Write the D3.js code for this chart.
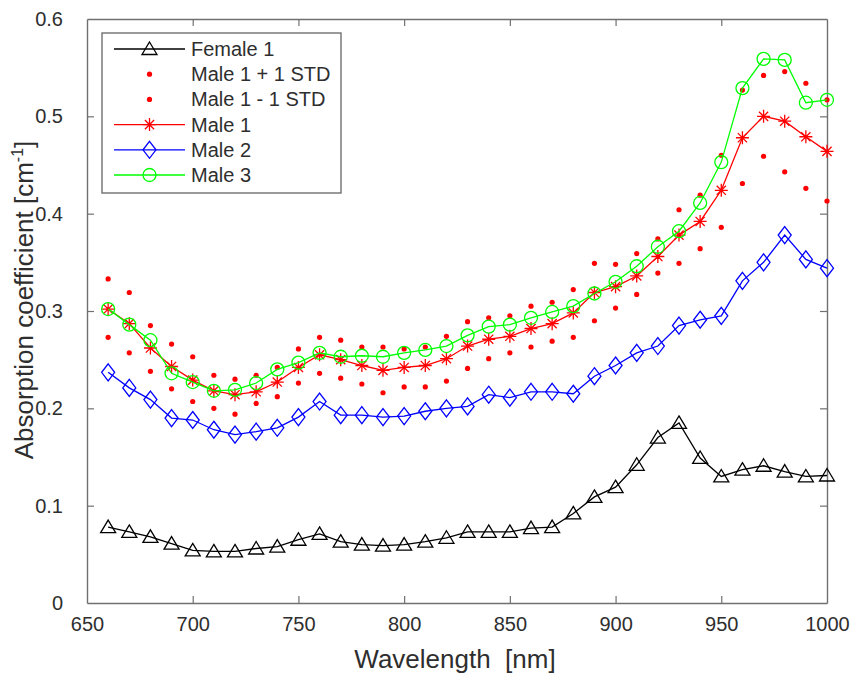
<!DOCTYPE html>
<html>
<head>
<meta charset="utf-8">
<script src="https://cdn.jsdelivr.net/npm/d3@7"></script>
<style>
  html, body { margin: 0; padding: 0; background: #fff; }
  svg { display: block; font-family: "Liberation Sans", Arial, Helvetica, sans-serif; }
</style>
</head>
<body>
<svg id="chart" width="853" height="673"></svg>
<script>
// Wavelength samples [nm]
const wavelengths = [660, 670, 680, 690, 700, 710, 720, 730, 740, 750, 760, 770, 780, 790, 800, 810, 820, 830, 840, 850,
                     860, 870, 880, 890, 900, 910, 920, 930, 940, 950, 960, 970, 980, 990, 1000];

// Absorption coefficients [cm^-1]
const female1 = [0.078, 0.073, 0.068, 0.061, 0.054, 0.053, 0.053, 0.056, 0.058, 0.065, 0.071, 0.063, 0.060, 0.059, 0.060,
                 0.063, 0.067, 0.073, 0.073, 0.073, 0.077, 0.078, 0.092, 0.109, 0.119, 0.142, 0.170, 0.185, 0.149, 0.130,
                 0.137, 0.141, 0.135, 0.130, 0.131];
const male1Plus = [0.333, 0.319, 0.285, 0.266, 0.253, 0.234, 0.230, 0.234, 0.242, 0.261, 0.273, 0.270, 0.263, 0.263, 0.261,
                   0.263, 0.274, 0.289, 0.293, 0.295, 0.305, 0.309, 0.322, 0.349, 0.348, 0.359, 0.374, 0.404, 0.419, 0.460,
                   0.527, 0.542, 0.546, 0.534, 0.517];
const male1Minus = [0.273, 0.257, 0.238, 0.220, 0.207, 0.200, 0.194, 0.205, 0.212, 0.226, 0.236, 0.231, 0.225, 0.216, 0.222,
                    0.222, 0.228, 0.241, 0.251, 0.257, 0.263, 0.269, 0.273, 0.290, 0.303, 0.317, 0.339, 0.349, 0.364, 0.386,
                    0.431, 0.459, 0.443, 0.426, 0.413];
const male1 = [0.302, 0.287, 0.262, 0.243, 0.229, 0.218, 0.214, 0.217, 0.227, 0.242, 0.255, 0.250, 0.244, 0.239, 0.242,
               0.244, 0.251, 0.264, 0.271, 0.274, 0.282, 0.287, 0.298, 0.319, 0.325, 0.336, 0.356, 0.378, 0.392, 0.424,
               0.478, 0.500, 0.495, 0.479, 0.464];
const male2 = [0.237, 0.221, 0.209, 0.190, 0.188, 0.178, 0.173, 0.176, 0.180, 0.191, 0.207, 0.193, 0.193, 0.191, 0.192,
               0.197, 0.200, 0.202, 0.214, 0.211, 0.217, 0.217, 0.215, 0.233, 0.244, 0.257, 0.264, 0.285, 0.291, 0.295,
               0.331, 0.350, 0.378, 0.353, 0.344];
const male3 = [0.302, 0.286, 0.270, 0.236, 0.227, 0.218, 0.219, 0.226, 0.240, 0.247, 0.257, 0.253, 0.254, 0.253, 0.257,
               0.260, 0.264, 0.275, 0.284, 0.286, 0.293, 0.299, 0.305, 0.318, 0.330, 0.346, 0.366, 0.382, 0.411, 0.453,
               0.529, 0.559, 0.558, 0.514, 0.517];

const seriesNames = ["Female 1", "Male 1 + 1 STD", "Male 1 - 1 STD", "Male 1", "Male 2", "Male 3"];

// Axis ticks
const xTicks = [650, 700, 750, 800, 850, 900, 950, 1000];
const yTicks = [0, 0.1, 0.2, 0.3, 0.4, 0.5, 0.6];
const yTickLabels = ["0", "0.1", "0.2", "0.3", "0.4", "0.5", "0.6"];

const xLabel = "Wavelength  [nm]";
const yLabel = "Absorption coefficient [cm";

// ---- layout ----
const W = 853, H = 673;
const margin = { left: 87, right: 26, top: 19, bottom: 70 };
const pw = W - margin.left - margin.right;
const ph = H - margin.top - margin.bottom;
const axisColor = "#707070";
const textColor = "#2e2e2e";

const svg = d3.select("#chart");
const g = svg.append("g").attr("transform", `translate(${margin.left},${margin.top})`);

const x = d3.scaleLinear().domain([650, 1000]).range([0, pw]);
const y = d3.scaleLinear().domain([0, 0.6]).range([ph, 0]);

// ---- marker shapes ----
function drawMarker(sel, type, color) {
  if (type === "triangle") {
    sel.append("path").attr("d", "M0,-7 L7.5,5.5 L-7.5,5.5 Z")
      .attr("fill", "none").attr("stroke", color).attr("stroke-width", 1.3);
  } else if (type === "diamond") {
    sel.append("path").attr("d", "M0,-8.5 L6.5,0 L0,8.5 L-6.5,0 Z")
      .attr("fill", "none").attr("stroke", color).attr("stroke-width", 1.3);
  } else if (type === "circle") {
    sel.append("circle").attr("r", 6.5)
      .attr("fill", "none").attr("stroke", color).attr("stroke-width", 1.3);
  } else if (type === "star") {
    const s = 6.5, d = 4.6;
    sel.append("path")
      .attr("d", `M${-s},0 L${s},0 M0,${-s} L0,${s} M${-d},${-d} L${d},${d} M${-d},${d} L${d},${-d}`)
      .attr("fill", "none").attr("stroke", color).attr("stroke-width", 1.3);
  } else if (type === "dot") {
    sel.append("circle").attr("r", 2.6).attr("fill", color).attr("stroke", "none");
  }
}

const series = [
  { name: seriesNames[0], values: female1,   color: "#000000", marker: "triangle", line: true },
  { name: seriesNames[1], values: male1Plus,  color: "#ff0000", marker: "dot",      line: false },
  { name: seriesNames[2], values: male1Minus, color: "#ff0000", marker: "dot",      line: false },
  { name: seriesNames[3], values: male1,     color: "#ff0000", marker: "star",     line: true },
  { name: seriesNames[4], values: male2,     color: "#0000ff", marker: "diamond",  line: true },
  { name: seriesNames[5], values: male3,     color: "#00ff00", marker: "circle",   line: true }
];

// ---- axes (box with inward ticks on all sides) ----
const tickLen = 7;
const fontTick = 20;

const xAxis = g.append("g").attr("transform", `translate(0,${ph})`)
  .call(d3.axisBottom(x).tickValues(xTicks).tickSizeInner(-tickLen).tickSizeOuter(0).tickPadding(14)
        .tickFormat(d3.format("d")));
const xAxisTop = g.append("g")
  .call(d3.axisTop(x).tickValues(xTicks).tickSizeInner(-tickLen).tickSizeOuter(0).tickFormat(""));
const yAxis = g.append("g")
  .call(d3.axisLeft(y).tickValues(yTicks).tickSizeInner(-tickLen).tickSizeOuter(0).tickPadding(24)
        .tickFormat((d, i) => yTickLabels[i]));
const yAxisRight = g.append("g").attr("transform", `translate(${pw},0)`)
  .call(d3.axisRight(y).tickValues(yTicks).tickSizeInner(-tickLen).tickSizeOuter(0).tickFormat(""));

[xAxis, xAxisTop, yAxis, yAxisRight].forEach(a => {
  a.select(".domain").attr("stroke", axisColor).attr("stroke-width", 1.4);
  a.selectAll(".tick line").attr("stroke", axisColor).attr("stroke-width", 1.2);
  a.selectAll(".tick line").filter(d => (d === 650 || d === 1000 || d === 0 || d === 0.6)).remove();
  a.selectAll("text").attr("fill", textColor).attr("font-size", fontTick)
    .attr("font-family", "'Liberation Sans', Arial, sans-serif");
});

// ---- data ----
const line = d3.line().x(d => x(d[0])).y(d => y(d[1]));

series.forEach(s => {
  const pts = wavelengths.map((w, i) => [w, s.values[i]]);
  const sg = g.append("g").attr("class", "series");
  if (s.line) {
    sg.append("path").datum(pts).attr("d", line)
      .attr("fill", "none").attr("stroke", s.color).attr("stroke-width", 1.3);
  }
  sg.selectAll("g.m").data(pts).join("g").attr("class", "m")
    .attr("transform", d => `translate(${x(d[0])},${y(d[1])})`)
    .each(function () { drawMarker(d3.select(this), s.marker, s.color); });
});

// ---- axis titles ----
svg.append("text")
  .attr("x", margin.left + pw / 2 - 2).attr("y", 668)
  .attr("text-anchor", "middle").attr("font-size", 26).attr("fill", textColor)
  .style("white-space", "pre").attr("xml:space", "preserve")
  .text(xLabel);

const yt = svg.append("text")
  .attr("transform", `translate(33,${margin.top + ph / 2 - 11}) rotate(-90)`)
  .attr("text-anchor", "middle").attr("font-size", 26).attr("fill", textColor);
yt.append("tspan").text(yLabel);
yt.append("tspan").attr("font-size", 16).attr("dy", -10).text("-1");
yt.append("tspan").attr("dy", 10).text("]");

// ---- legend ----
const lg = svg.append("g").attr("transform", "translate(102,33)");
lg.append("rect").attr("width", 239).attr("height", 160)
  .attr("fill", "#fff").attr("stroke", axisColor).attr("stroke-width", 1.4);

const rowY0 = 16, rowGap = 25.2;
series.forEach((s, i) => {
  const ry = rowY0 + i * rowGap;
  const row = lg.append("g").attr("transform", `translate(0,${ry})`);
  if (s.line) {
    row.append("line").attr("x1", 12).attr("x2", 83).attr("y1", 0).attr("y2", 0)
      .attr("stroke", s.color).attr("stroke-width", 1.3);
  }
  const m = row.append("g").attr("transform", "translate(47.5,0)");
  drawMarker(m, s.marker, s.color);
  row.append("text").attr("x", 89).attr("y", 0).attr("dy", "0.35em")
    .attr("font-size", 20).attr("fill", textColor).text(s.name);
});
</script>
</body>
</html>
